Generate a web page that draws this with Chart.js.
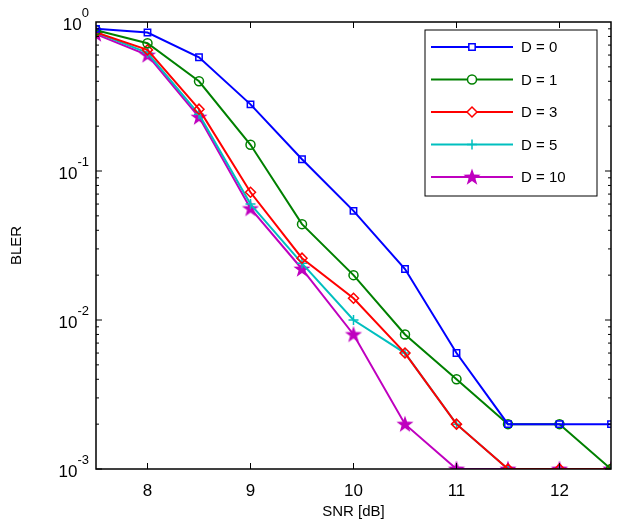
<!DOCTYPE html>
<html><head><meta charset="utf-8">
<script src="https://cdn.jsdelivr.net/npm/chart.js@4"></script>
<style>html,body{margin:0;background:#fff}#wrap{width:624px;height:529px}</style>
</head><body><div id="wrap"><canvas id="c"></canvas></div>
<script>
const snr = [7.5, 8, 8.5, 9, 9.5, 10, 10.5, 11, 11.5, 12, 12.5];
const d0  = [0.90, 0.85, 0.58, 0.28, 0.12, 0.054, 0.022, 0.006, 0.002, 0.002, 0.002];
const d1  = [0.88, 0.72, 0.40, 0.15, 0.044, 0.020, 0.008, 0.004, 0.002, 0.002, 0.001];
const d3  = [0.85, 0.65, 0.26, 0.072, 0.026, 0.014, 0.006, 0.002, 0.001, 0.001, 0.001];
const d5  = [0.85, 0.62, 0.24, 0.060, 0.024, 0.010, 0.006, 0.002, 0.001, 0.001, 0.001];
const d10 = [0.83, 0.60, 0.23, 0.056, 0.022, 0.008, 0.002, 0.001, 0.001, 0.001, 0.001];
const xTicks = [8, 9, 10, 11, 12];
const yTicks = [0.001, 0.01, 0.1, 1];
const yTickExp = ['-3', '-2', '-1', '0'];
const FONT = 'Arial, "Liberation Sans", sans-serif';

function pentagram(color) {
    const c = document.createElement('canvas');
    c.width = 20; c.height = 20;
    const g = c.getContext('2d');
    g.beginPath();
    for (let i = 0; i < 10; i++) {
        const r = i % 2 ? 3.6 : 9;
        const a = -Math.PI / 2 + i * Math.PI / 5;
        g.lineTo(10 + r * Math.cos(a), 10.5 + r * Math.sin(a));
    }
    g.closePath();
    g.fillStyle = color; g.fill();
    return c;
}

const series = [
    { label: 'D = 0', data: d0, color: '#0000ff', style: 'rect', r: 4.5 },
    { label: 'D = 1', data: d1, color: '#008000', style: 'circle', r: 4.5 },
    { label: 'D = 3', data: d3, color: '#ff0000', style: 'rectRot', r: 5 },
    { label: 'D = 5', data: d5, color: '#00bfbf', style: 'cross', r: 5 },
    { label: 'D = 10', data: d10, color: '#bf00bf', style: pentagram('#bf00bf'), r: 9 }
];

const boxPlugin = {
    id: 'box',
    afterDraw(chart) {
        const a = chart.chartArea, g = chart.ctx;
        g.save();
        g.strokeStyle = '#000'; g.lineWidth = 1.5;
        g.strokeRect(a.left, a.top, a.right - a.left, a.bottom - a.top);
        const xs = chart.scales.x, ys = chart.scales.y;
        g.lineWidth = 1;
        g.beginPath();
        xTicks.forEach(v => {
            const p = xs.getPixelForValue(v);
            g.moveTo(p, a.bottom); g.lineTo(p, a.bottom - 6);
            g.moveTo(p, a.top); g.lineTo(p, a.top + 6);
        });
        for (let e = -3; e < 0; e++) {
            for (let m = 1; m < 10; m++) {
                const p = ys.getPixelForValue(m * Math.pow(10, e));
                const len = m === 1 ? 6 : 3;
                g.moveTo(a.left, p); g.lineTo(a.left + len, p);
                g.moveTo(a.right, p); g.lineTo(a.right - len, p);
            }
        }
        g.stroke();
        // y tick labels with superscript exponent
        g.fillStyle = '#000';
        g.textBaseline = 'alphabetic';
        yTicks.forEach((v, i) => {
            const p = ys.getPixelForValue(v);
            g.font = '13px ' + FONT;
            const ew = g.measureText(yTickExp[i]).width;
            g.textAlign = 'left';
            g.fillText(yTickExp[i], a.left - 7 - ew, p - 5);
            g.font = '17px ' + FONT;
            g.textAlign = 'right';
            g.fillText('10', a.left - 7 - ew, p + 8);
        });
        // legend
        const lx = 425, ly = 30, lw = 172, lh = 166;
        g.fillStyle = '#fff'; g.fillRect(lx, ly, lw, lh);
        g.strokeStyle = '#000'; g.lineWidth = 1;
        g.strokeRect(lx, ly, lw, lh);
        g.font = '15px ' + FONT;
        g.textAlign = 'left';
        g.textBaseline = 'middle';
        chart.data.datasets.forEach((ds, i) => {
            const yy = ly + 17 + i * 32.5;
            g.strokeStyle = ds.borderColor; g.lineWidth = 2;
            g.beginPath(); g.moveTo(lx + 6, yy); g.lineTo(lx + 88, yy); g.stroke();
            g.fillStyle = '#fff'; g.lineWidth = 1.5;
            Chart.helpers.drawPoint(g, {
                pointStyle: ds.pointStyle, radius: ds.pointRadius,
                borderWidth: 1.5, rotation: 0
            }, lx + 47, yy);
            g.fillStyle = '#000';
            g.fillText(ds.label, lx + 96, yy + 1);
        });
        g.restore();
    }
};

new Chart(document.getElementById('c'), {
    type: 'line',
    data: {
        datasets: series.map(s => ({
            label: s.label,
            data: snr.map((x, i) => ({ x: x, y: s.data[i] })),
            borderColor: s.color,
            backgroundColor: 'rgba(0,0,0,0)',
            pointBorderColor: s.color,
            pointBackgroundColor: 'rgba(0,0,0,0)',
            borderWidth: 2,
            pointBorderWidth: 1.5,
            pointStyle: s.style,
            pointRadius: s.r,
            tension: 0
        }))
    },
    options: {
        responsive: true,
        maintainAspectRatio: false,
        animation: false,
        layout: { padding: { top: 22, right: 13, left: 4, bottom: 4 } },
        plugins: { legend: { display: false }, tooltip: { enabled: false } },
        scales: {
            x: {
                type: 'linear', min: 7.5, max: 12.5,
                afterBuildTicks: ax => { ax.ticks = xTicks.map(v => ({ value: v })); },
                grid: { display: false },
                border: { display: false },
                ticks: { color: '#000', font: { family: FONT, size: 17 }, padding: 4, maxRotation: 0 },
                title: { display: true, text: 'SNR [dB]', color: '#000', font: { family: FONT, size: 15 }, padding: { top: 10 } },
                afterFit: ax => { ax.height = 56; }
            },
            y: {
                type: 'logarithmic', min: 0.001, max: 1,
                afterBuildTicks: ax => { ax.ticks = yTicks.map(v => ({ value: v })); },
                grid: { display: false },
                border: { display: false },
                ticks: { color: '#000', font: { family: FONT, size: 16 }, padding: 4, callback: () => '' },
                title: { display: true, text: 'BLER', color: '#000', font: { family: FONT, size: 15 }, padding: { bottom: 0 } },
                afterFit: ax => { ax.width = 92; }
            }
        }
    },
    plugins: [boxPlugin]
});
</script></body></html>
